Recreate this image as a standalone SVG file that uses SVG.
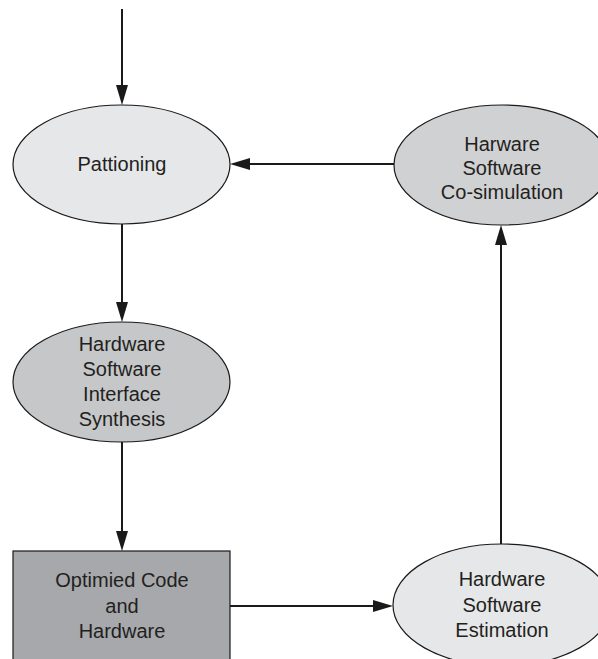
<svg xmlns="http://www.w3.org/2000/svg" width="598" height="659" viewBox="0 0 598 659">
  <defs>
    <marker id="arrow" viewBox="0 0 20 12" refX="12" refY="6" markerWidth="20" markerHeight="12" markerUnits="userSpaceOnUse" orient="auto">
      <path d="M0,0 L20,6 L0,12 z" fill="#1a1a1a"/>
    </marker>
    <style>
      .node { stroke: #1a1a1a; stroke-width: 1.2; }
      .light { fill: #e6e7e8; }
      .soft { fill: #d0d1d3; }
      .mid { fill: #c6c7c9; }
      .dark { fill: #a6a8ab; }
      .label { font-family: "Liberation Sans", Arial, sans-serif; font-size: 20px; fill: #231f20; text-anchor: middle; }
      .edge { stroke: #1a1a1a; stroke-width: 2; fill: none; marker-end: url(#arrow); }
    </style>
  </defs>
  <rect width="598" height="659" fill="#ffffff"/>

  <g id="connectors">
    <line class="edge" x1="122" y1="9" x2="122" y2="97"/>
    <line class="edge" x1="122" y1="224" x2="122" y2="314"/>
    <line class="edge" x1="122" y1="442" x2="122" y2="543"/>
    <line class="edge" x1="230" y1="606" x2="385" y2="606"/>
    <line class="edge" x1="501" y1="544" x2="501" y2="233"/>
    <line class="edge" x1="394" y1="164" x2="238" y2="164"/>
  </g>

  <g id="pattioning">
    <ellipse class="node light" cx="121.5" cy="164.5" rx="108.5" ry="59.5"/>
    <text class="label" x="122" y="171">Pattioning</text>
  </g>

  <g id="cosimulation">
    <ellipse class="node soft" cx="502" cy="165" rx="108" ry="60"/>
    <text class="label" x="502" y="151">Harware</text>
    <text class="label" x="502" y="175">Software</text>
    <text class="label" x="502" y="199">Co-simulation</text>
  </g>

  <g id="interface-synthesis">
    <ellipse class="node mid" cx="121.5" cy="382" rx="108.5" ry="60"/>
    <text class="label" x="122" y="351">Hardware</text>
    <text class="label" x="122" y="376">Software</text>
    <text class="label" x="122" y="401">Interface</text>
    <text class="label" x="122" y="426">Synthesis</text>
  </g>

  <g id="optimized-code">
    <rect class="node dark" x="13" y="551" width="217" height="120"/>
    <text class="label" x="122" y="587">Optimied Code</text>
    <text class="label" x="122" y="613">and</text>
    <text class="label" x="122" y="638">Hardware</text>
  </g>

  <g id="estimation">
    <ellipse class="node light" cx="502" cy="605" rx="109" ry="61"/>
    <text class="label" x="502" y="586">Hardware</text>
    <text class="label" x="502" y="612">Software</text>
    <text class="label" x="502" y="637">Estimation</text>
  </g>
</svg>
